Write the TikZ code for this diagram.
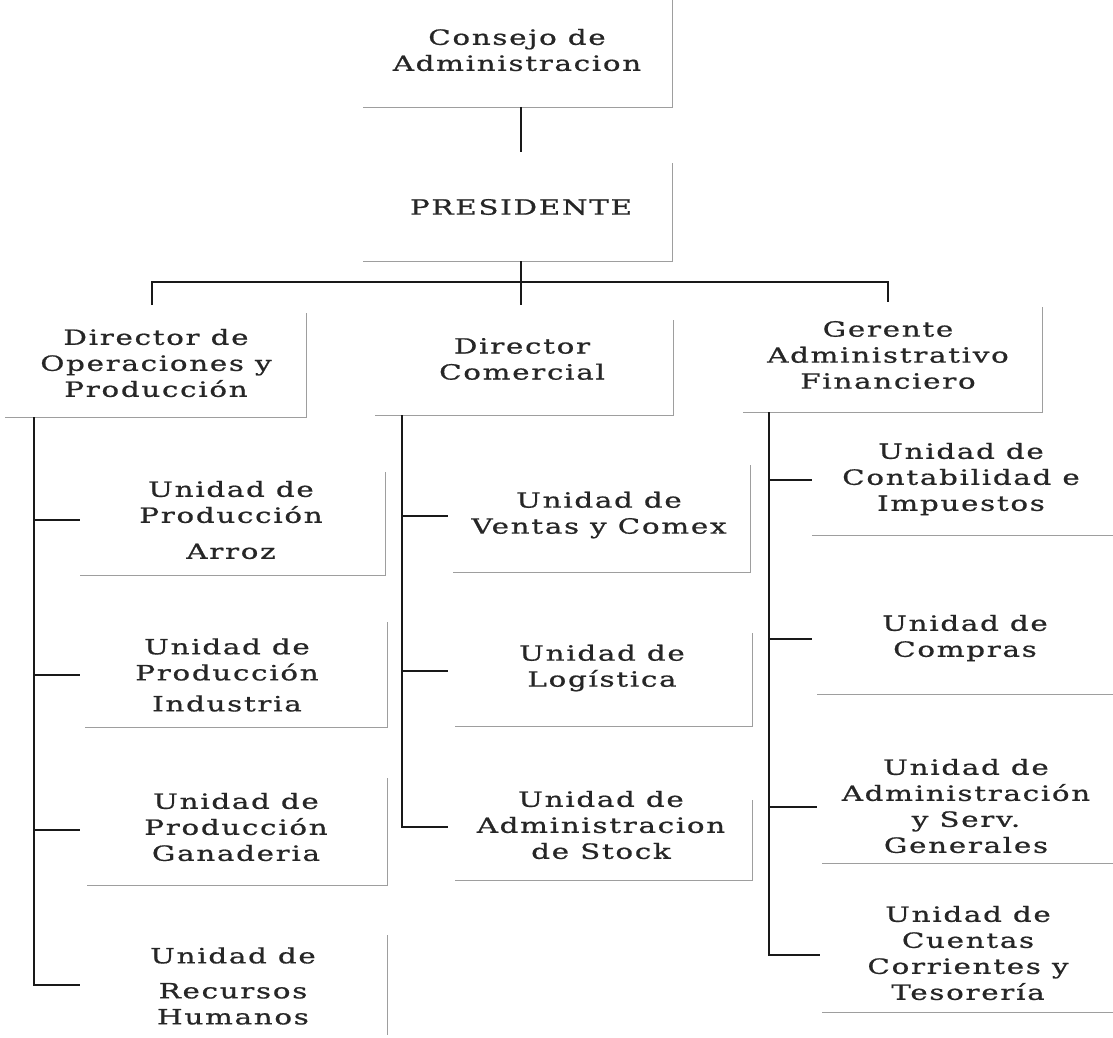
\documentclass[tikz,border=0pt]{standalone}
\usepackage{fontspec}
\setmainfont[FakeStretch=1.4,LetterSpace=8,FakeBold=0.8]{DejaVu Serif}
\begin{document}
\begin{tikzpicture}[x=1pt,y=-1pt,
  lbl/.style={align=center,inner sep=0pt,text=black!85,font=\fontsize{21}{26}\selectfont},
  boxedge/.style={draw=black!38,line width=0.9pt},
  conn/.style={draw=black!90,line width=1.3pt}]
\useasboundingbox (0,0) rectangle (1113,1038);
% ---- text nodes
\node[lbl] (consejo) at (517,50) {Consejo de\\Administracion};
\node[lbl] (pres) at (521,207) {PRESIDENTE};
\node[lbl] (dirop) at (156,363) {Director de\\Operaciones y\\Producción};
\node[lbl] (dircom) at (522,359) {Director\\Comercial};
\node[lbl] (geren) at (888,355) {Gerente\\Administrativo\\Financiero};
\node[lbl] (arroz) at (231,520) {Unidad de\\Producción\\[10pt]Arroz};
\node[lbl] (indus) at (227,675) {Unidad de\\Producción\\[5pt]Industria};
\node[lbl] (ganad) at (236,827) {Unidad de\\Producción\\Ganaderia};
\node[lbl] (rrhh) at (233,986) {Unidad de\\[9pt]Recursos\\Humanos};
\node[lbl] (ventas) at (599,515) {Unidad de\\Ventas y Comex};
\node[lbl] (logis) at (602,668) {Unidad de\\Logística};
\node[lbl] (stock) at (601,825) {Unidad de\\Administracion\\de Stock};
\node[lbl] (contab) at (961,479) {Unidad de\\Contabilidad e\\Impuestos};
\node[lbl] (compras) at (965,638) {Unidad de\\Compras};
\node[lbl] (admserv) at (966,806) {Unidad de\\Administración\\y Serv.\\Generales};
\node[lbl] (cuentas) at (968,953) {Unidad de\\Cuentas\\Corrientes y\\Tesorería};
% ---- box edges (right and bottom)
\draw[boxedge] (672,0) -- (672,107) -- (363,107);
\draw[boxedge] (672,163) -- (672,261) -- (363,261);
\draw[boxedge] (306,313) -- (306,417) -- (5,417);
\draw[boxedge] (673,320) -- (673,415) -- (375,415);
\draw[boxedge] (1042,307) -- (1042,412) -- (743,412);
\draw[boxedge] (385,472) -- (385,575) -- (80,575);
\draw[boxedge] (387,622) -- (387,727) -- (85,727);
\draw[boxedge] (387,778) -- (387,885) -- (87,885);
\draw[boxedge] (387,935) -- (387,1035);
\draw[boxedge] (750,465) -- (750,572) -- (453,572);
\draw[boxedge] (752,633) -- (752,726) -- (455,726);
\draw[boxedge] (752,800) -- (752,880) -- (455,880);
\draw[boxedge] (1113,535) -- (812,535);
\draw[boxedge] (1113,694) -- (817,694);
\draw[boxedge] (1113,863) -- (822,863);
\draw[boxedge] (1113,1012) -- (822,1012);
% ---- connector anchor points
\coordinate (consejoB) at (521,107);
\coordinate (presT) at (521,152);
\coordinate (presB) at (521,261);
\coordinate (bus) at (521,282);
\coordinate (busL) at (152,282);
\coordinate (busR) at (888,282);
\coordinate (dirT) at (152,305);
\coordinate (comT) at (521,305);
\coordinate (gerT) at (888,302);
\coordinate (dirB) at (34,417);
\coordinate (comB) at (402,415);
\coordinate (gerB) at (769,412);
\coordinate (arrozL) at (80,520);
\coordinate (indusL) at (80,675);
\coordinate (ganadL) at (80,830);
\coordinate (rrhhL) at (80,985);
\coordinate (ventasL) at (448,516);
\coordinate (logisL) at (448,671);
\coordinate (stockL) at (448,827);
\coordinate (contabL) at (812,480);
\coordinate (comprasL) at (812,639);
\coordinate (admservL) at (817,807);
\coordinate (cuentasL) at (820,955);
% ---- connectors
\draw[conn] (consejoB) -- (presT);
\draw[conn] (presB) -- (bus);
\draw[conn] (dirT) -- (busL) -- (busR) -- (gerT);
\draw[conn] (bus) -- (comT);
\draw[conn] (dirB) |- (rrhhL);
\draw[conn] (dirB |- arrozL) -- (arrozL);
\draw[conn] (dirB |- indusL) -- (indusL);
\draw[conn] (dirB |- ganadL) -- (ganadL);
\draw[conn] (comB) |- (stockL);
\draw[conn] (comB |- ventasL) -- (ventasL);
\draw[conn] (comB |- logisL) -- (logisL);
\draw[conn] (gerB) |- (cuentasL);
\draw[conn] (gerB |- contabL) -- (contabL);
\draw[conn] (gerB |- comprasL) -- (comprasL);
\draw[conn] (gerB |- admservL) -- (admservL);
\end{tikzpicture}
\end{document}
